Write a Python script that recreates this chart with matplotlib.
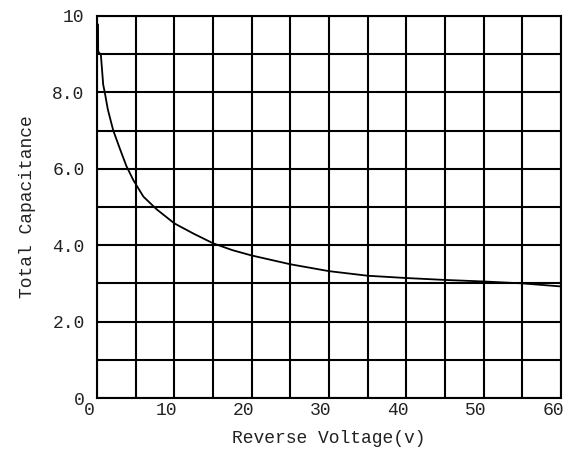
import numpy as np
import matplotlib
matplotlib.use("Agg")
import matplotlib.pyplot as plt
import matplotlib.transforms as mtransforms

# curve
volt = [0.13, 0.15, 0.5, 0.8, 1.0, 1.4, 2.1, 3.0, 3.8, 4.7, 6.0, 7.7, 10, 12.5, 15,
        17.5, 20, 25, 30, 35, 40, 45, 50, 55, 60]
cap = [9.77, 9.07, 8.98, 8.2, 8.0, 7.55, 7.0, 6.5, 6.07, 5.7, 5.27, 4.94, 4.57, 4.3, 4.05,
       3.87, 3.73, 3.5, 3.32, 3.2, 3.14, 3.09, 3.05, 3.0, 2.92]

xticks = [0, 10, 20, 30, 40, 50, 60]
yticks = [0, 2, 4, 6, 8, 10]
ylabels = ['0', '2.0', '4.0', '6.0', '8.0', '10']

plt.rcParams['font.family'] = ['Liberation Mono', 'DejaVu Sans']

fig = plt.figure(figsize=(5.69, 4.54), dpi=100)
ax = fig.add_axes([0.1705, 0.1233, 0.8155, 0.8417])

# grid every 5 V and every 1 unit
for x in np.arange(0, 61, 5):
    ax.axvline(x, color='black', lw=1.5, zorder=1)
for y in np.arange(0, 11, 1):
    ax.axhline(y, color='black', lw=1.5, zorder=1)

ax.plot(volt, cap, color='black', lw=1.3, zorder=2)

ax.set_xlim(0, 60)
ax.set_ylim(0, 10)
ax.set_xticks(xticks)
ax.set_yticks(yticks)
ax.set_yticklabels(ylabels)
ax.tick_params(length=0, labelsize=13, colors='#222222')
ax.tick_params(axis='x', pad=3)
ax.tick_params(axis='y', pad=9)
shift = mtransforms.ScaledTranslation(-8 / 100, 0, fig.dpi_scale_trans)
for lab in ax.get_xticklabels():
    lab.set_transform(lab.get_transform() + shift)
for s in ax.spines.values():
    s.set_linewidth(1.5)

ax.set_xlabel('Reverse Voltage(v)', fontsize=13, color='#222222', labelpad=8)
ax.set_ylabel('Total Capacitance', fontsize=13, color='#222222', labelpad=12)

fig.savefig('out.png', dpi=100)
